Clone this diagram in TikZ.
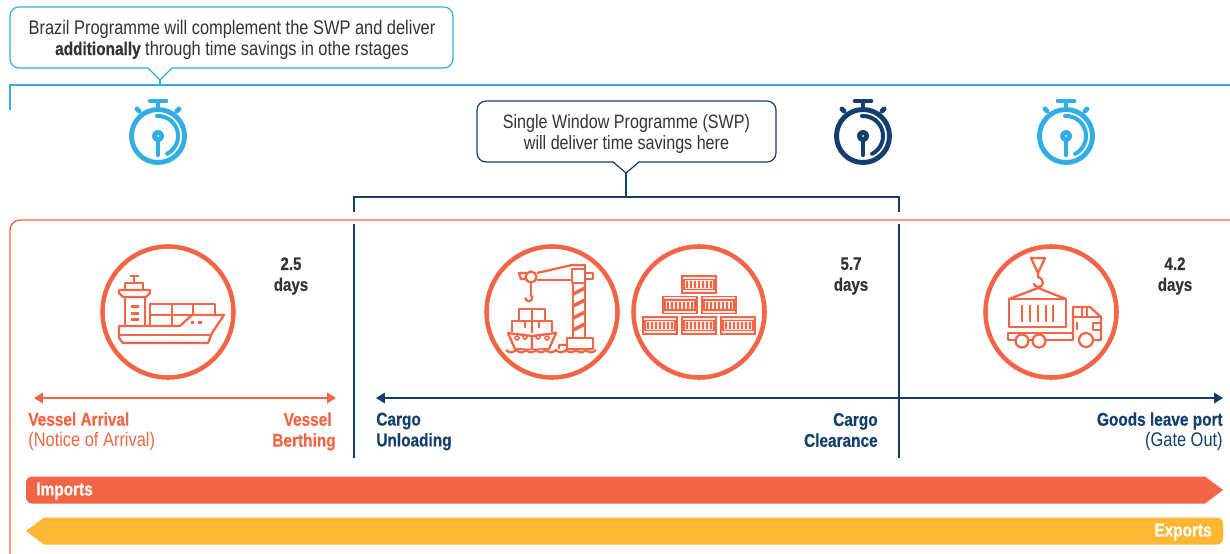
\documentclass[tikz,border=0pt]{standalone}
\usepackage{fontspec}
\setmainfont[FakeStretch=0.834,BoldFeatures={FakeBold=0.5}]{Liberation Sans}
\usetikzlibrary{arrows.meta,positioning,calc}
\definecolor{orangecol}{HTML}{F26546}
\definecolor{navycol}{HTML}{123F6D}
\definecolor{skycol}{HTML}{33AEE5}
\definecolor{yellowcol}{HTML}{FDB733}
\definecolor{textcol}{HTML}{333333}
\newcommand{\lblfont}{\fontsize{11.2}{11.9}\selectfont}
\newcommand{\boldfont}{\fontsize{10.5}{11.9}\selectfont\bfseries}
\tikzset{
  labeltext/.style={inner sep=0pt,font=\lblfont},
  boldtext/.style={inner sep=0pt,font=\boldfont},
  daystext/.style={inner sep=0pt,align=center,text=textcol,font=\fontsize{10.3}{11.9}\selectfont\bfseries},
  callbox/.style={draw,fill=white,rounded corners=1.8mm,line width=0.7pt,align=center,text=textcol,inner sep=0pt,labeltext},
  ringnode/.style={circle,draw=orangecol,line width=2.6pt,minimum size=2.62cm,inner sep=0pt},
  icon/.style={draw=orangecol,line width=1.3pt,line join=round},
  thinicon/.style={draw=orangecol,line width=0.6pt},
  pics/watch/.style={code={
    \draw[#1,line width=2.8pt] (0,0) circle (26.5);
    \draw[#1,line width=2.6pt,line cap=round] (-8,-35) -- (8,-35);
    \draw[#1,line width=1.8pt] (0,-35) -- (0,-28);
    \draw[#1,line width=2.8pt,line cap=round] (-19,-25) -- (-21,-27);
    \draw[#1,line width=2.8pt,line cap=round] (19,-25) -- (21,-27);
    \draw[#1,line width=2.3pt,line cap=round] (-1,-20) arc (-93:63:20);
    \fill[#1] (0,0) circle (6);
    \fill[white] (0,0) circle (1);
    \draw[#1,line width=2.4pt,line cap=round] (0,3) -- (0,19);
  }},
  pics/boxunit/.style={code={
    \draw[thinicon,fill=orangecol!15] (-17,-8.5) rectangle (17,8.5);
    \draw[thinicon] (-15,-5) rectangle (15,5);
    \foreach \ribx in {-12,-8,-4,0,4,8,12}
      \draw[orangecol,line width=1.1pt] (\ribx,-3.5) -- (\ribx,3.5);
  }},
}
\begin{document}
\begin{tikzpicture}[x=0.02cm,y=-0.02cm]
\useasboundingbox (0,0) rectangle (1230,554);

% Top bracket and first callout
\coordinate (bluestart) at (10,110);
\coordinate (bluecorner) at (10,85);
\coordinate (blueend) at (1230,85);
\coordinate (bluetip) at (160,80);
\draw[skycol,line width=0.9pt] (bluestart) -- (bluecorner) -- (blueend);
\node[callbox,draw=skycol,minimum width=8.86cm,minimum height=1.22cm] (brazilbox) at (231.5,37.5) {};
\node[labeltext,align=center,text=textcol] (brazillabel) at (232,39.5)
  {Brazil Programme will complement the SWP and deliver\\{\boldfont additionally} through time savings in othe rstages};
\fill[white] (148,67) -- (bluetip) -- (172,67) -- cycle;
\draw[skycol,line width=0.7pt] (148,68) -- (bluetip) -- (172,68);
\draw[skycol,line width=0.7pt] (bluetip) -- (bluetip |- bluecorner);

% Stopwatches
\pic (watchone) at (158,136) {watch=skycol};
\pic (watchtwo) at (863,136) {watch=navycol};
\pic (watchthree) at (1066,136) {watch=skycol};

% Second callout and its bracket
\node[callbox,draw=navycol,minimum width=5.98cm,minimum height=1.22cm] (swpbox) at (626.5,131.5) {};
\node[labeltext,align=center,text=textcol,font=\fontsize{11}{11.9}\selectfont] (swplabel) at (626.5,134)
  {Single Window Programme (SWP)\\will deliver time savings here};
\coordinate (swptip) at (626,173);
\coordinate (bracketmid) at (626,197);
\coordinate (bracketleft) at (354,212);
\coordinate (bracketright) at (899,212);
\fill[white] (613,161) -- (swptip) -- (639,161) -- cycle;
\draw[navycol,line width=0.7pt] (613,162) -- (swptip) -- (639,162);
\draw[navycol,line width=0.7pt] (swptip) -- (bracketmid);
\draw[navycol,line width=0.7pt] (bracketleft) -- (354,197) -- (899,197) -- (bracketright);

% Orange frame
\coordinate (framestart) at (1230,220);
\coordinate (framecorner) at (10,220);
\coordinate (frameend) at (10,554);
\draw[orangecol,line width=0.8pt,rounded corners=2mm] (framestart) -- (framecorner) -- (frameend);

% Stage dividers
\coordinate (divonetop) at (354,224);
\coordinate (divonebot) at (354,458);
\coordinate (divtwotop) at (899,224);
\coordinate (divtwobot) at (899,458);
\draw[navycol,line width=0.7pt] (divonetop) -- (divonebot);
\draw[navycol,line width=0.7pt] (divtwotop) -- (divtwobot);

% Rings
\node[ringnode] (shipring) at (168,312) {};
\node[ringnode] (cranering) at (552,312) {};
\node[ringnode] (stackring) at (699,312) {};
\node[ringnode] (truckring) at (1051,312) {};

% Ship icon
\draw[icon] (119,326) -- (180,326) -- (192,315) -- (224,315) -- (212,333) -- (208,343) -- (123,343) -- (119,338) -- cycle;
\draw[icon] (119,335) -- (210,335);
\draw[icon] (150,325) -- (150,304) -- (215,304) -- (215,315);
\draw[icon] (150,315) -- (192,315);
\draw[icon] (172,304) -- (172,326);
\draw[icon] (193,304) -- (193,315);
\draw[icon] (125,326) -- (125,297) -- (145,297) -- (145,326);
\draw[icon] (119,290) -- (150,290) -- (150,293) -- (146,297) -- (123,297) -- (119,293) -- cycle;
\draw[icon] (125,290) -- (125,283) -- (143,283) -- (143,290);
\draw[icon] (134,283) -- (134,276);
\draw[icon] (130,276) -- (139,276);
\foreach \winy in {306,313,319}
  \fill[orangecol] (131,\winy-1.5) rectangle (139,\winy+1.5);
\fill[orangecol] (191,321) rectangle (194,324);
\fill[orangecol] (198,321) rectangle (202,324);

% Crane icon
\draw[icon] (573,283) -- (573,338);
\draw[icon] (585,283) -- (585,338);
\foreach \stripey in {292,304,316,328}
  \fill[orangecol] (573,\stripey) -- (585,\stripey-6) -- (585,\stripey-2) -- (573,\stripey+4) -- cycle;
\draw[icon] (572,269) rectangle (585,283);
\draw[icon] (567,338) rectangle (593,349);
\draw[icon] (559,349) -- (559,345) -- (567,345);
\draw[icon] (537,273) -- (572,265) -- (585,265) -- (585,269);
\draw[icon] (537,280) -- (572,280);
\draw[icon] (585,273) -- (593,273) -- (593,279) -- (585,279);
\draw[icon] (526,273) -- (519,273) -- (521,279) -- (526,279);
\draw[icon,fill=white] (531,277) circle (5.5);
\draw[icon] (531,282) -- (531,296);
\draw[icon] (531,295) arc (-50:180:3.5);
\draw[icon] (512,332) -- (512,321) -- (552,321) -- (552,332);
\draw[icon] (519,321) -- (519,309) -- (545,309) -- (545,321);
\draw[icon] (532,309) -- (532,333);
\draw[icon] (525,321) -- (525,328);
\draw[icon] (539,321) -- (539,328);
\draw[icon,fill=white] (508,333) -- (532,336) -- (532,350) -- (515,349) -- cycle;
\draw[icon,fill=white] (556,333) -- (532,336) -- (532,350) -- (549,349) -- cycle;
\foreach \holex/\holey in {517/338,525/337,538/337,547/338}
  \draw[thinicon,line width=0.9pt] (\holex,\holey) circle (2);
\draw[icon,fill=white] (506,350) \foreach \wavex in {506,516,...,586}
  { .. controls (\wavex+3,353) and (\wavex+7,353) .. (\wavex+10,350) };

% Container stack icon
\pic (boxone) at (699,284.5) {boxunit};
\pic (boxtwo) at (680,305) {boxunit};
\pic (boxthree) at (719,305) {boxunit};
\pic (boxfour) at (660,325.5) {boxunit};
\pic (boxfive) at (699,325.5) {boxunit};
\pic (boxsix) at (738,325.5) {boxunit};

% Truck icon
\draw[icon] (1031,258) -- (1045,258) -- (1038,273) -- cycle;
\draw[icon] (1038,273) -- (1038,277) .. controls (1045,279) and (1044,288) .. (1038,287) .. controls (1035,287) and (1034,285) .. (1034,283);
\draw[icon] (1009,299) -- (1038,288) -- (1066,299);
\draw[icon] (1009,299) rectangle (1066,327);
\foreach \ribx in {1022,1030,1038,1046,1053}
  \draw[icon] (\ribx,305) -- (\ribx,322);
\draw[icon] (1008,333) rectangle (1073,340);
\draw[icon] (1073,340) -- (1073,307) -- (1090,307) -- (1101,317) -- (1101,340) -- (1094,340);
\draw[icon] (1073,317) -- (1101,317);
\draw[icon] (1082,307) -- (1082,317);
\draw[icon] (1087,307) -- (1087,317);
\draw[icon] (1077,322) -- (1077,330);
\draw[icon] (1101,323) -- (1093,323) -- (1093,330) -- (1101,330);
\foreach \wheelx in {1022,1039}
  \draw[icon,fill=white] (\wheelx,341) circle (6.5);
\draw[icon,fill=white] (1086,340) circle (7);

% Durations
\node[daystext] (daysone) at (291,276) {2.5\\days};
\node[daystext] (daystwo) at (851,276) {5.7\\days};
\node[daystext] (daysthree) at (1175,276) {4.2\\days};

% Timeline arrows
\coordinate (vesselstart) at (34,398);
\coordinate (vesselend) at (336,398);
\coordinate (cargostart) at (376,398);
\coordinate (cargoend) at (1223,398);
\draw[{Triangle[length=5pt,width=6pt]}-{Triangle[length=5pt,width=6pt]},orangecol,line width=0.7pt] (vesselstart) -- (vesselend);
\draw[{Triangle[length=5pt,width=6pt]}-{Triangle[length=5pt,width=6pt]},navycol,line width=0.7pt] (cargostart) -- (cargoend);

% Stage labels
\node[labeltext,anchor=west,align=left,text=orangecol] (arrivallabel) at (28,431.5) {{\boldfont Vessel Arrival}\\(Notice of Arrival)};
\node[boldtext,anchor=east,align=right,text=orangecol] (berthlabel) at (336,431.5) {Vessel\hspace*{2.3pt}\\Berthing};
\node[boldtext,anchor=west,align=left,text=navycol] (unloadlabel) at (376,431.5) {Cargo\\Unloading};
\node[boldtext,anchor=east,align=right,text=navycol] (clearlabel) at (878,430) {Cargo\\Clearance};
\node[labeltext,anchor=east,align=right,text=navycol] (gatelabel) at (1223,431.5) {{\boldfont Goods leave port}\\(Gate Out)};

% Imports and exports bars
\fill[orangecol] (1205,476.5) -- (1223,490) -- (1205,503.5) [rounded corners=1.2mm] -- (26,503.5) -- (26,476.5) [sharp corners] -- cycle;
\fill[yellowcol] (44,517.5) -- (26,531) -- (44,544.5) [rounded corners=1.2mm] -- (1223,544.5) -- (1223,517.5) [sharp corners] -- cycle;
\node[boldtext,anchor=west,text=white] (importslabel) at (36,491) {Imports};
\node[boldtext,anchor=east,text=white] (exportslabel) at (1212,532) {Exports};
\end{tikzpicture}
\end{document}
